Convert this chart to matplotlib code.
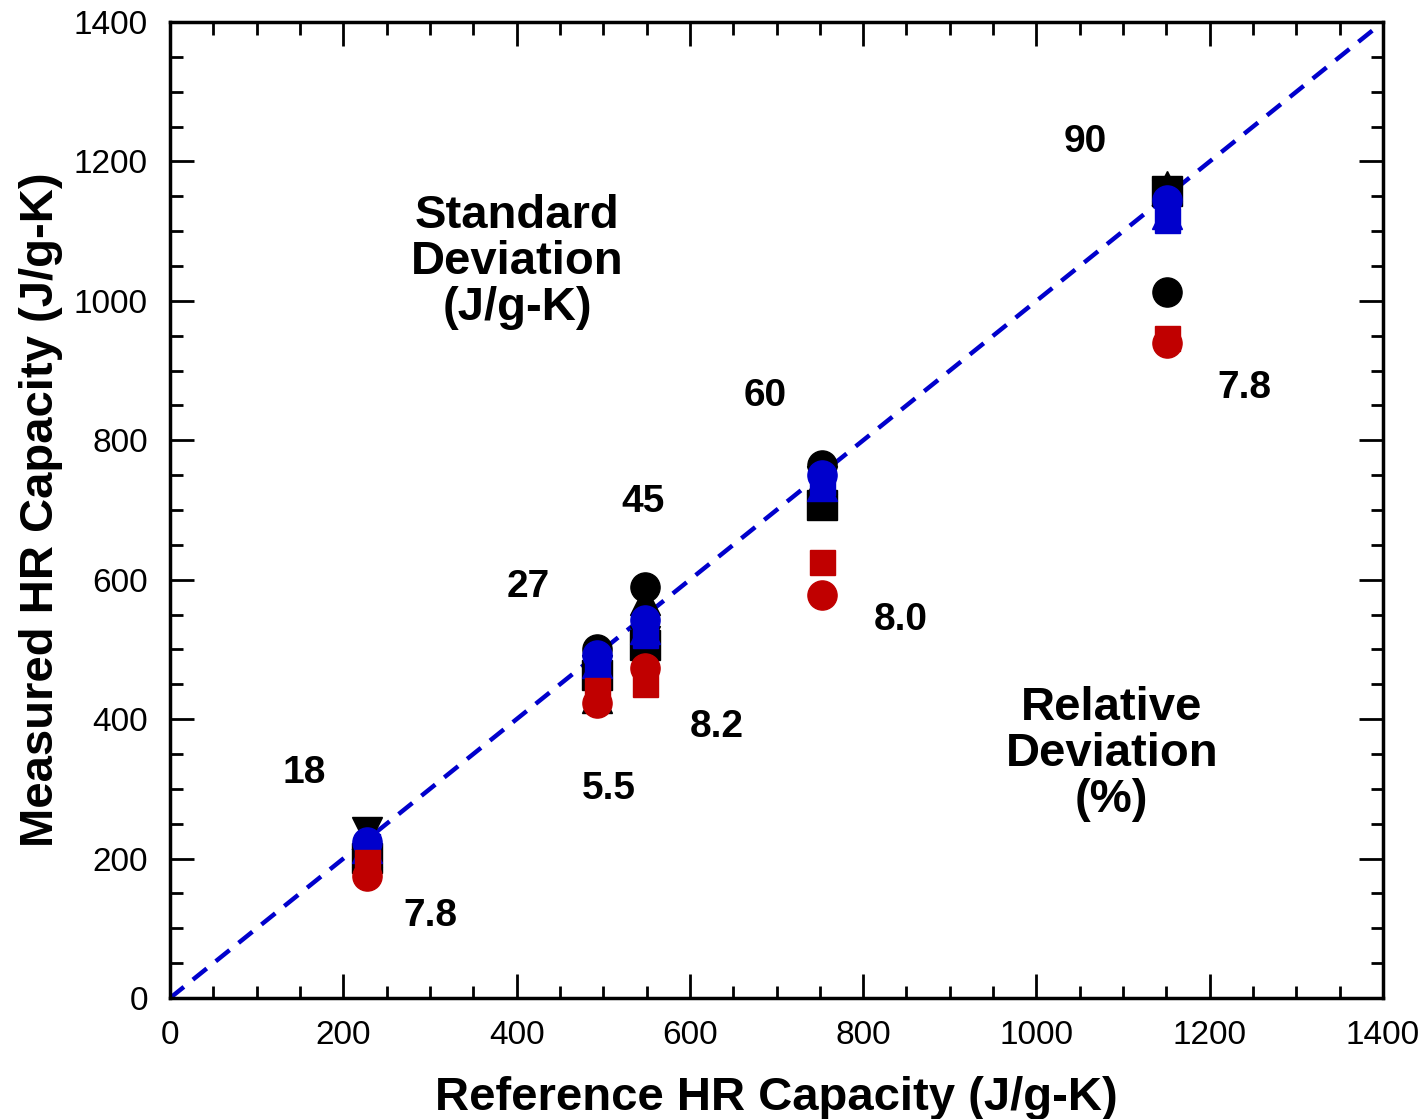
import numpy as np
import matplotlib
matplotlib.use("Agg")
import matplotlib.pyplot as plt
from matplotlib.ticker import MultipleLocator

plt.rcParams['font.family'] = ['Liberation Sans', 'DejaVu Sans']

# reference capacities (x) and measured values per series (y)
ref = [227, 493, 548, 753, 1151]
black_tri_down = [238, 470, 512, 742, 1152]
black_tri_up = [210, 430, 571, 745, 1165]
black_square = [201, 463, 506, 707, 1157]
black_circle = [205, 500, 590, 765, 1013]
blue_tri_up = [215, 480, 530, 735, 1125]
blue_square = [218, 478, 521, 740, 1116]
blue_circle = [224, 492, 542, 750, 1145]
red_square = [195, 442, 450, 625, 947]
red_circle = [175, 423, 473, 578, 940]

# annotation labels: (text, x, y)
std_labels = [("18", 155, 323), ("27", 414, 590), ("45", 546, 712),
              ("60", 687, 864), ("90", 1056, 1228)]
rel_labels = [("7.8", 301, 118), ("5.5", 507, 300), ("8.2", 631, 389),
              ("8.0", 843, 542), ("7.8", 1240, 875)]

fig = plt.figure(figsize=(14.24, 11.19), dpi=100)
ax = fig.add_axes([0.1194, 0.1081, 0.8518, 0.8722])

blk = 'black'
blu = '#0000cc'
red = '#c00000'

ax.plot([0, 1400], [0, 1400], color=blu, lw=3.2, ls=(0, (4, 2.6)), zorder=1)

ms = 21
ax.plot(ref, black_tri_down, 'v', color=blk, ms=ms, ls='none', zorder=2)
ax.plot(ref, black_tri_up, '^', color=blk, ms=ms, ls='none', zorder=2)
ax.plot(ref, black_square, 's', color=blk, ms=22, ls='none', zorder=2)
ax.plot(ref, black_circle, 'o', color=blk, ms=ms, ls='none', zorder=2)
ax.plot(ref, blue_tri_up, '^', color=blu, ms=ms, ls='none', zorder=3)
ax.plot(ref, blue_square, 's', color=blu, ms=18, ls='none', zorder=3)
ax.plot(ref, blue_circle, 'o', color=blu, ms=ms, ls='none', zorder=3)
ax.plot(ref, red_square, 's', color=red, ms=18, ls='none', zorder=4)
ax.plot(ref, red_circle, 'o', color=red, ms=ms, ls='none', zorder=4)

for t, x, y in std_labels + rel_labels:
    ax.text(x, y, t, fontsize=28, fontweight='bold', ha='center', va='center')

ax.text(401, 1056, "Standard\nDeviation\n(J/g-K)", fontsize=34, fontweight='bold',
        ha='center', va='center', linespacing=1.05)
ax.text(1087, 350, "Relative\nDeviation\n(%)", fontsize=34, fontweight='bold',
        ha='center', va='center', linespacing=1.05)

ax.set_xlim(0, 1400)
ax.set_ylim(0, 1400)
ax.xaxis.set_major_locator(MultipleLocator(200))
ax.xaxis.set_minor_locator(MultipleLocator(50))
ax.yaxis.set_major_locator(MultipleLocator(200))
ax.yaxis.set_minor_locator(MultipleLocator(50))
ax.tick_params(which='both', direction='in', top=True, right=True, width=2,
               labelsize=24, pad=16)
ax.tick_params(which='major', length=17)
ax.tick_params(which='minor', length=9)
for s in ax.spines.values():
    s.set_linewidth(2.5)

ax.set_xlabel("Reference HR Capacity (J/g-K)", fontsize=34, fontweight='bold', labelpad=18)
ax.set_ylabel("Measured HR Capacity (J/g-K)", fontsize=34, fontweight='bold', labelpad=8)

fig.savefig('out.png', dpi=100)
